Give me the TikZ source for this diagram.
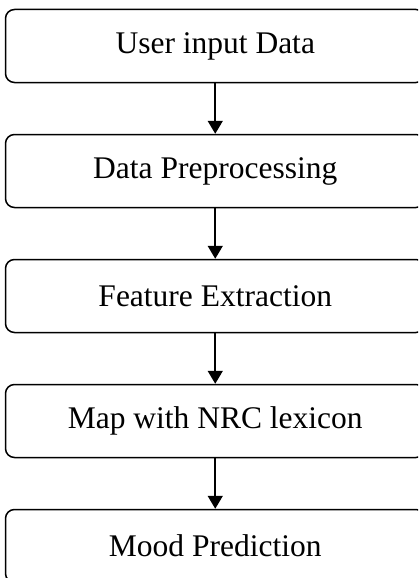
\documentclass[tikz,border=0pt]{standalone}
\usepackage{fontspec}
\setmainfont{Liberation Serif}
\usetikzlibrary{arrows.meta}
\begin{document}
\begin{tikzpicture}[x=1pt,y=-1pt,
  stepbox/.style={draw, line width=1.5pt, rounded corners=9pt, minimum width=419.5pt, minimum height=73pt, inner sep=0pt, font=\fontsize{31.5}{36}\selectfont},
  flow/.style={line width=1.8pt, -{Triangle[width=15pt,length=13pt]}}]
\useasboundingbox (0,0) rectangle (418,578);
\begin{scope}
\clip (0,0) rectangle (418,578);
\node[stepbox] (b1) at (215.25,46) {User input Data};
\node[stepbox] (b2) at (215.25,171) {Data Preprocessing};
\node[stepbox] (b3) at (215.25,296) {Feature Extraction};
\node[stepbox] (b4) at (215.25,421) {Map with NRC lexicon};
\node[stepbox] (b5) at (215.25,546) {Mood Prediction};
\draw[flow] (b1) -- (b2);
\draw[flow] (b2) -- (b3);
\draw[flow] (b3) -- (b4);
\draw[flow] (b4) -- (b5);
\end{scope}
\end{tikzpicture}
\end{document}
